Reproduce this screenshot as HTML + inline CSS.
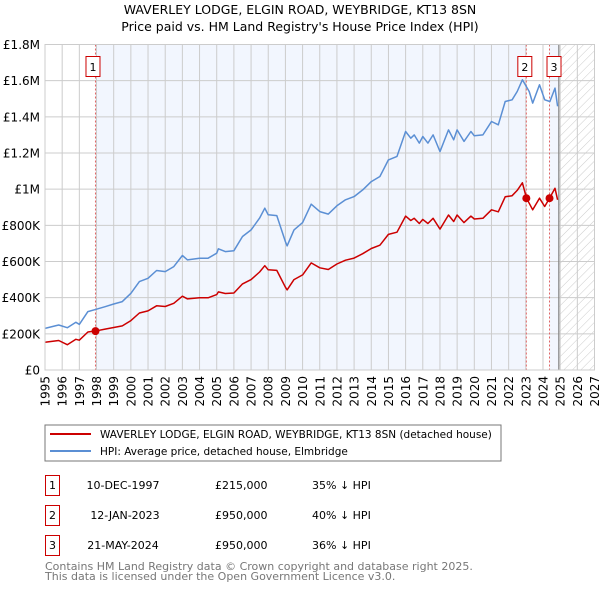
<!DOCTYPE html>
<html><head><meta charset="utf-8"><style>
body{margin:0;background:#fff;font-family:"DejaVu Sans","Liberation Sans",sans-serif;}
svg text{font-family:"DejaVu Sans","Liberation Sans",sans-serif;}
</style></head><body>
<svg id="c" width="600" height="590" viewBox="0 0 600 590" xmlns="http://www.w3.org/2000/svg">
<defs><pattern id="hatch" width="6" height="6" patternUnits="userSpaceOnUse" patternTransform="rotate(45)"><line x1="0" y1="0" x2="0" y2="6" stroke="#ccc" stroke-width="1"/></pattern></defs>
<text x="300" y="14" text-anchor="middle" font-size="12.5" fill="#000">WAVERLEY LODGE, ELGIN ROAD, WEYBRIDGE, KT13 8SN</text>
<text x="300" y="31" text-anchor="middle" font-size="12.5" fill="#000">Price paid vs. HM Land Registry's House Price Index (HPI)</text>
<g id="plot"></g>
<rect x="45" y="425" width="456" height="36" fill="#fff" stroke="#777" stroke-width="1"/>
<line x1="50" y1="434" x2="91" y2="434" stroke="#cc0000" stroke-width="2"/>
<text x="100" y="438" font-size="10.5">WAVERLEY LODGE, ELGIN ROAD, WEYBRIDGE, KT13 8SN (detached house)</text>
<line x1="50" y1="451" x2="91" y2="451" stroke="#5b8fd4" stroke-width="2"/>
<text x="100" y="455" font-size="10.5">HPI: Average price, detached house, Elmbridge</text>
<g font-size="11" fill="#000">
<rect x="45.5" y="475.5" width="14" height="20" fill="none" stroke="#cc0000"/><text x="52.5" y="489" text-anchor="middle">1</text>
<text x="123" y="489" text-anchor="middle">10-DEC-1997</text><text x="215" y="489">£215,000</text><text x="312" y="489">35% ↓ HPI</text>
<rect x="45.5" y="505.5" width="14" height="20" fill="none" stroke="#cc0000"/><text x="52.5" y="519" text-anchor="middle">2</text>
<text x="125" y="519" text-anchor="middle">12-JAN-2023</text><text x="215" y="519">£950,000</text><text x="312" y="519">40% ↓ HPI</text>
<rect x="45.5" y="535.5" width="14" height="20" fill="none" stroke="#cc0000"/><text x="52.5" y="549" text-anchor="middle">3</text>
<text x="123" y="549" text-anchor="middle">21-MAY-2024</text><text x="215" y="549">£950,000</text><text x="312" y="549">36% ↓ HPI</text>
</g>
<text x="45" y="570" font-size="11" fill="#777">Contains HM Land Registry data © Crown copyright and database right 2025.</text>
<text x="45" y="580" font-size="11" fill="#777">This data is licensed under the Open Government Licence v3.0.</text>
</svg>
<script>
const hpiYears=[1995,1995.8,1996.3,1996.8,1997,1997.5,1998,1998.5,1999,1999.5,2000,2000.5,2001,2001.5,2002,2002.5,2003,2003.3,2004,2004.5,2005,2005.1,2005.5,2006,2006.5,2007,2007.5,2007.8,2008,2008.5,2009,2009.1,2009.5,2010,2010.5,2011,2011.5,2012,2012.5,2013,2013.5,2014,2014.5,2015,2015.5,2016,2016.3,2016.5,2016.8,2017,2017.3,2017.6,2018,2018.5,2018.8,2019,2019.4,2019.8,2020,2020.5,2021,2021.4,2021.8,2022.2,2022.5,2022.8,2023.2,2023.4,2023.8,2024.1,2024.4,2024.7,2024.85];
const hpiValues=[230,249,234,264,252,323,336,350,365,378,424,489,507,550,544,572,633,609,618,618,646,670,655,660,738,775,840,895,858,854,710,686,775,815,917,876,862,908,941,959,996,1042,1070,1162,1181,1319,1282,1300,1255,1291,1255,1300,1208,1328,1273,1328,1264,1319,1295,1300,1374,1356,1485,1494,1540,1605,1540,1476,1577,1494,1485,1559,1458];
const priceYears=[1995,1995.8,1996.3,1996.8,1997,1997.5,1998,1998.5,1999,1999.5,2000,2000.5,2001,2001.5,2002,2002.5,2003,2003.3,2004,2004.5,2005,2005.1,2005.5,2006,2006.5,2007,2007.5,2007.8,2008,2008.5,2009,2009.1,2009.5,2010,2010.5,2011,2011.5,2012,2012.5,2013,2013.5,2014,2014.5,2015,2015.5,2016,2016.3,2016.5,2016.8,2017,2017.3,2017.6,2018,2018.5,2018.8,2019,2019.4,2019.8,2020,2020.5,2021,2021.4,2021.8,2022.2,2022.5,2022.8,2023.04,2023.4,2023.8,2024.1,2024.38,2024.7,2024.85];
const priceValues=[153,163,140,170,165,210,217,226,235,244,273,315,327,355,351,369,408,393,399,399,417,432,423,426,476,500,542,577,554,551,458,443,500,526,592,565,556,586,607,619,643,672,690,750,762,851,827,839,810,833,810,839,779,857,821,857,815,851,835,839,886,875,958,964,993,1035,950,886,950,904,950,1005,941];
const saleYears=[1997.94,2023.03,2024.38];
const saleValues=[215,950,950];
const saleLabels=["1","2","3"];
const yTicks=[0,200,400,600,800,1000,1200,1400,1600,1800];
const yTickLabels=["£0","£200K","£400K","£600K","£800K","£1M","£1.2M","£1.4M","£1.6M","£1.8M"];
const xTicks=[1995,1996,1997,1998,1999,2000,2001,2002,2003,2004,2005,2006,2007,2008,2009,2010,2011,2012,2013,2014,2015,2016,2017,2018,2019,2020,2021,2022,2023,2024,2025,2026,2027];

const L=45,R=594.5,T=44.5,B=370,X0=1995,X1=2027,YMAX=1800,dataEnd=2024.92;
const sx=y=>L+(y-X0)/(X1-X0)*(R-L);
const sy=v=>B-v/YMAX*(B-T);
const NS="http://www.w3.org/2000/svg";
const g=document.getElementById('plot');
function mk(tag,at){const e=document.createElementNS(NS,tag);for(const k in at)e.setAttribute(k,at[k]);g.appendChild(e);return e;}
let e;
e=mk('rect',{x:sx(saleYears[0]),y:T,width:sx(saleYears[1])-sx(saleYears[0]),height:B-T,fill:'#f2f6fe'});


e=mk('rect',{x:sx(saleYears[2]),y:T,width:sx(dataEnd)-sx(saleYears[2]),height:B-T,fill:'#f2f6fe'});


e=mk('rect',{x:sx(dataEnd),y:T,width:R-sx(dataEnd),height:B-T,fill:'url(#hatch)'});


for(let i=0;i<xTicks.length;i++){
 const x=sx(xTicks[i]);
 e=mk('line',{x1:x,y1:T,x2:x,y2:B,stroke:'#ccc','stroke-width':1});
 
 
 e=mk('text',{x:0,y:0,'font-size':12,'text-anchor':'end',transform:`translate(${x+4.5},${B+6}) rotate(-90)`});
 e.textContent=xTicks[i];
 
 
}
for(let i=0;i<yTicks.length;i++){
 const y=sy(yTicks[i]);
 e=mk('line',{x1:L,y1:y,x2:R,y2:y,stroke:'#ccc','stroke-width':1});
 
 
 e=mk('text',{x:40,y:y+4.5,'font-size':12,'text-anchor':'end'});
 e.textContent=yTickLabels[i];
 
 
}
e=mk('line',{x1:sx(dataEnd),y1:T,x2:sx(dataEnd),y2:B,stroke:'#888','stroke-width':1.2});


for(let i=0;i<saleYears.length;i++){
 const x=sx(saleYears[i]);
 e=mk('line',{x1:x,y1:T,x2:x,y2:B,stroke:'#e06666','stroke-width':1,'stroke-dasharray':'2,2'});
 
 
}
function path(xs,vs,col,name){
 let d='';for(let i=0;i<xs.length;i++)d+=(i?'L':'M')+sx(xs[i]).toFixed(1)+','+sy(vs[i]).toFixed(1);
 const p=mk('path',{d:d,fill:'none',stroke:col,'stroke-width':1.5,'stroke-linejoin':'round'});
 
 
}
path(hpiYears,hpiValues,'#5b8fd4','hpi-line');
path(priceYears,priceValues,'#cc0000','property-price-line');
for(let i=0;i<saleYears.length;i++){
 const x=sx(saleYears[i]);
 e=mk('circle',{cx:x,cy:sy(saleValues[i]),r:4,fill:'#cc0000'});
 
 
 const bx=i==0?x-10:(i==1?x-9:x-3);
 e=mk('rect',{x:bx+0.5,y:56.5,width:14,height:20,fill:'#fff',stroke:'#cc0000'});
 
 
 e=mk('text',{x:bx+7.5,y:71,'font-size':11,'text-anchor':'middle'});
 e.textContent=saleLabels[i];
 
 
}
e=mk('rect',{x:L,y:T,width:R-L,height:B-T,fill:'none',stroke:'#ccc'});


</script>
</body></html>
